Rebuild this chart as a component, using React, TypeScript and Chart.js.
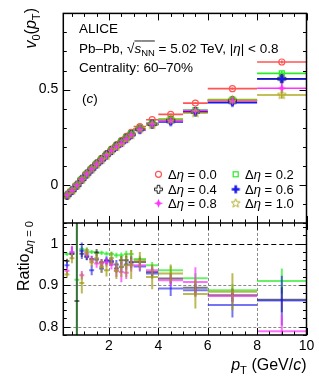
import React, { useEffect, useRef } from 'react';
import { Chart, registerables } from 'chart.js';

Chart.register(...registerables);

const FONT = '"Liberation Sans", Arial, Helvetica, sans-serif';

// ---- data ----
const binEdges = [0.2, 0.4, 0.6, 0.8, 1.0, 1.2, 1.4, 1.6, 1.8, 2.0, 2.2, 2.4, 2.6, 2.8, 3.0, 3.5, 4, 5, 6, 8, 10];
const ptCenters = [0.3, 0.5, 0.7, 0.9, 1.1, 1.3, 1.5, 1.7, 1.9, 2.1, 2.3, 2.5, 2.7, 2.9, 3.25, 3.75, 4.5, 5.5, 7, 9];
const etaGapLabels = ['0.0', '0.2', '0.4', '0.6', '0.8', '1.0'];
const xTickValues = [2, 4, 6, 8, 10];
const yTopTickValues = [0, 0.5];
const yBotTickValues = [0.8, 0.9, 1];

const v0Deta00 = [-0.057, -0.031, -0.002, 0.030, 0.059, 0.087, 0.113, 0.139, 0.163, 0.188, 0.210, 0.232, 0.254, 0.276, 0.306, 0.342, 0.370, 0.429, 0.505, 0.645];
const v0Deta02 = [-0.056, -0.030, -0.002, 0.030, 0.058, 0.085, 0.111, 0.136, 0.159, 0.184, 0.205, 0.228, 0.249, 0.270, 0.295, 0.324, 0.346, 0.393, 0.448, 0.585];
const v0Deta04 = [-0.055, -0.030, -0.002, 0.029, 0.057, 0.084, 0.110, 0.133, 0.157, 0.180, 0.203, 0.223, 0.244, 0.265, 0.293, 0.319, 0.339, 0.384, 0.442, 0.557];
const v0Deta06 = [-0.054, -0.030, -0.002, 0.029, 0.056, 0.081, 0.108, 0.131, 0.156, 0.180, 0.201, 0.221, 0.241, 0.262, 0.289, 0.317, 0.330, 0.381, 0.431, 0.556];
const v0Deta08 = [-0.053, -0.030, -0.002, 0.028, 0.057, 0.083, 0.108, 0.132, 0.156, 0.179, 0.199, 0.217, 0.240, 0.262, 0.290, 0.320, 0.337, 0.390, 0.441, 0.507];
const v0Deta10 = [-0.053, -0.030, -0.002, 0.028, 0.057, 0.083, 0.109, 0.132, 0.153, 0.180, 0.200, 0.221, 0.242, 0.262, 0.294, 0.315, 0.343, 0.377, 0.446, 0.472];

const v0ErrDeta00 = [0.002, 0.002, 0.002, 0.002, 0.002, 0.002, 0.002, 0.002, 0.002, 0.002, 0.002, 0.003, 0.003, 0.003, 0.003, 0.004, 0.004, 0.005, 0.006, 0.008];
const v0ErrDeta02 = [0.002, 0.002, 0.002, 0.002, 0.002, 0.002, 0.002, 0.002, 0.002, 0.002, 0.003, 0.003, 0.003, 0.003, 0.004, 0.004, 0.005, 0.006, 0.007, 0.012];
const v0ErrDeta04 = [0.002, 0.002, 0.002, 0.002, 0.002, 0.002, 0.002, 0.002, 0.002, 0.003, 0.003, 0.003, 0.003, 0.004, 0.004, 0.004, 0.005, 0.006, 0.008, 0.015];
const v0ErrDeta06 = [0.002, 0.002, 0.002, 0.002, 0.002, 0.002, 0.002, 0.002, 0.002, 0.003, 0.003, 0.003, 0.004, 0.004, 0.004, 0.005, 0.008, 0.007, 0.009, 0.015];
const v0ErrDeta08 = [0.002, 0.002, 0.002, 0.002, 0.002, 0.002, 0.002, 0.002, 0.003, 0.003, 0.003, 0.004, 0.004, 0.004, 0.004, 0.005, 0.006, 0.010, 0.009, 0.025];
const v0ErrDeta10 = [0.002, 0.002, 0.002, 0.002, 0.002, 0.002, 0.003, 0.003, 0.003, 0.003, 0.004, 0.004, 0.005, 0.005, 0.005, 0.007, 0.007, 0.010, 0.012, 0.020];

const ratioDeta02 = [0.975, 0.975, 0.913, 0.987, 0.985, 0.980, 0.978, 0.978, 0.976, 0.975, 0.972, 0.972, 0.975, 0.975, 0.963, 0.948, 0.936, 0.917, 0.888, 0.910];
const ratioDeta04 = [0.958, 0.975, 0.862, 0.976, 0.968, 0.963, 0.979, 0.955, 0.958, 0.955, 0.940, 0.960, 0.960, 0.955, 0.956, 0.932, 0.916, 0.894, 0.876, 0.865];
const ratioDeta06 = [0.948, 0.978, null, 0.983, 0.971, 0.936, 0.962, 0.940, 0.960, 0.958, 0.950, 0.944, 0.950, 0.955, 0.945, 0.928, 0.892, 0.888, 0.852, 0.863];
const ratioDeta08 = [0.935, 0.980, null, 0.924, 0.976, 0.960, 0.952, 0.952, 0.955, 0.950, 0.935, 0.932, 0.930, 0.948, 0.948, 0.936, 0.912, 0.908, 0.874, 0.789];
const ratioDeta10 = [0.926, 0.965, null, 0.905, 0.980, 0.955, 0.965, 0.945, 0.936, 0.965, 0.935, 0.945, 0.948, 0.950, 0.960, 0.920, 0.928, 0.879, 0.884, 0.730];

const ratioErrDeta02 = [0.004, 0.005, 0.35, 0.006, 0.006, 0.005, 0.005, 0.005, 0.005, 0.006, 0.006, 0.007, 0.008, 0.010, 0.008, 0.008, 0.010, 0.012, 0.014, 0.030];
const ratioErrDeta04 = [0.006, 0.006, 0.35, 0.008, 0.008, 0.008, 0.008, 0.008, 0.008, 0.009, 0.010, 0.010, 0.011, 0.012, 0.010, 0.010, 0.012, 0.014, 0.016, 0.030];
const ratioErrDeta06 = [0.008, 0.015, 0, 0.020, 0.010, 0.012, 0.010, 0.010, 0.010, 0.010, 0.011, 0.012, 0.012, 0.015, 0.012, 0.012, 0.018, 0.015, 0.030, 0.060];
const ratioErrDeta08 = [0.008, 0.015, 0, 0.010, 0.010, 0.010, 0.010, 0.010, 0.010, 0.012, 0.015, 0.025, 0.015, 0.015, 0.012, 0.012, 0.014, 0.035, 0.015, 0.040];
const ratioErrDeta10 = [0.008, 0.012, 0, 0.025, 0.010, 0.010, 0.012, 0.015, 0.015, 0.015, 0.020, 0.025, 0.028, 0.035, 0.020, 0.030, 0.022, 0.035, 0.045, 0.050];

const v0Series = [v0Deta00, v0Deta02, v0Deta04, v0Deta06, v0Deta08, v0Deta10];
const v0ErrSeries = [v0ErrDeta00, v0ErrDeta02, v0ErrDeta04, v0ErrDeta06, v0ErrDeta08, v0ErrDeta10];
const ratioSeries = [ratioDeta02, ratioDeta04, ratioDeta06, ratioDeta08, ratioDeta10];
const ratioErrSeries = [ratioErrDeta02, ratioErrDeta04, ratioErrDeta06, ratioErrDeta08, ratioErrDeta10];

const seriesColors = ['rgb(255,85,85)', 'rgb(40,235,40)', 'rgb(30,30,30)', 'rgb(25,25,235)', 'rgb(255,50,255)', 'rgb(175,170,35)'];
const ratioColors = ['', 'rgba(40,235,40,0.7)', 'rgba(30,30,30,0.6)', 'rgba(25,25,235,0.6)', 'rgba(255,50,255,0.7)', 'rgba(160,155,15,0.7)'];

// ---- helpers ----
type Seg = { t: string; it?: boolean; sub?: boolean; over?: boolean };

function segFont(size: number, it?: boolean) {
  return `${it ? 'italic ' : ''}${size}px ${FONT}`;
}
function measureRich(ctx: CanvasRenderingContext2D, segs: Seg[], size: number) {
  let w = 0;
  for (const s of segs) {
    ctx.font = segFont(s.sub ? size * 0.7 : size, s.it);
    w += ctx.measureText(s.t).width;
  }
  return w;
}
function drawRich(ctx: CanvasRenderingContext2D, x: number, y: number, segs: Seg[], size: number) {
  let cx = x;
  ctx.textBaseline = 'alphabetic';
  ctx.textAlign = 'left';
  for (const s of segs) {
    const fs = s.sub ? size * 0.7 : size;
    ctx.font = segFont(fs, s.it);
    const dy = s.sub ? size * 0.28 : 0;
    ctx.fillText(s.t, cx, y + dy);
    const w = ctx.measureText(s.t).width;
    if (s.over) {
      ctx.save();
      ctx.lineWidth = 0.9;
      ctx.strokeStyle = ctx.fillStyle as string;
      ctx.beginPath();
      ctx.moveTo(cx, y - size * 0.86);
      ctx.lineTo(cx + w, y - size * 0.86);
      ctx.stroke();
      ctx.restore();
    }
    cx += w;
  }
  return cx;
}

function makeMarker(kind: string, color: string) {
  const c = document.createElement('canvas');
  c.width = 11;
  c.height = 11;
  const g = c.getContext('2d')!;
  g.translate(5.5, 5.5);
  g.strokeStyle = color;
  g.fillStyle = color;
  g.lineWidth = 1;
  const path = (pts: number[][]) => {
    g.beginPath();
    pts.forEach(([x, y], k) => (k ? g.lineTo(x, y) : g.moveTo(x, y)));
    g.closePath();
  };
  if (kind === 'openCross' || kind === 'fullCross') {
    const s = 4, a = 1.3;
    path([[-a, -s], [a, -s], [a, -a], [s, -a], [s, a], [a, a], [a, s], [-a, s], [-a, a], [-s, a], [-s, -a], [-a, -a]]);
    if (kind === 'fullCross') g.fill(); else g.stroke();
  } else if (kind === 'star4') {
    const s = 4.5, i = 1.3;
    path([[0, -s], [i, -i], [s, 0], [i, i], [0, s], [-i, i], [-s, 0], [-i, -i]]);
    g.fill();
  } else if (kind === 'openStar') {
    const R = 4.6, r = 2.0;
    const pts: number[][] = [];
    for (let k = 0; k < 10; k++) {
      const ang = -Math.PI / 2 + (k * Math.PI) / 5;
      const rr = k % 2 === 0 ? R : r;
      pts.push([rr * Math.cos(ang), rr * Math.sin(ang)]);
    }
    path(pts);
    g.stroke();
  }
  return c;
}

function drawLegendMarker(ctx: CanvasRenderingContext2D, style: any, k: number, x: number, y: number) {
  ctx.save();
  ctx.strokeStyle = seriesColors[k];
  ctx.lineWidth = 1.2;
  if (style === 'circle') {
    ctx.beginPath();
    ctx.arc(x, y, 3, 0, Math.PI * 2);
    ctx.stroke();
  } else if (style === 'rect') {
    ctx.strokeRect(x - 2.5, y - 2.5, 5, 5);
  } else {
    ctx.drawImage(style, x - style.width / 2, y - style.height / 2);
  }
  ctx.restore();
}

export default function App() {
  const ref = useRef<HTMLCanvasElement>(null);

  useEffect(() => {
    const canvas = ref.current!;
    const markers: any[] = [
      'circle',
      'rect',
      makeMarker('openCross', seriesColors[2]),
      makeMarker('fullCross', seriesColors[3]),
      makeMarker('star4', seriesColors[4]),
      makeMarker('openStar', seriesColors[5]),
    ];

    const datasets: any[] = [];
    v0Series.forEach((vals, k) => {
      datasets.push({
        label: 'v0 deta ' + etaGapLabels[k],
        yAxisID: 'yTop',
        data: ptCenters.map((x, j) => ({ x, y: vals[j], err: v0ErrSeries[k][j], lo: binEdges[j], hi: binEdges[j + 1] })),
        pointStyle: markers[k],
        pointRadius: k === 1 ? 3.5 : 3,
        pointBorderWidth: 1.2,
        borderColor: seriesColors[k],
        backgroundColor: 'rgba(0,0,0,0)',
        barColor: seriesColors[k],
        barWidth: 1.6,
        order: 10 - k,
      });
    });
    ratioSeries.forEach((vals, idx) => {
      const k = idx + 1;
      const data: any[] = [];
      ptCenters.forEach((x, j) => {
        if (vals[j] !== null) data.push({ x, y: vals[j], err: ratioErrSeries[idx][j], lo: binEdges[j], hi: binEdges[j + 1] });
      });
      datasets.push({
        label: 'ratio deta ' + etaGapLabels[k],
        yAxisID: 'yBot',
        data,
        pointRadius: 0,
        borderColor: ratioColors[k],
        backgroundColor: ratioColors[k],
        barColor: ratioColors[k],
        barWidth: 2,
      });
    });

    const decor = {
      id: 'decor',
      beforeDatasetsDraw(chart: any) {
        const ctx: CanvasRenderingContext2D = chart.ctx;
        const xs = chart.scales.x, yb = chart.scales.yBot;
        const { left: L, right: R } = chart.chartArea;
        ctx.save();
        // grid in ratio panel
        ctx.lineWidth = 1;
        ctx.strokeStyle = '#8a8a8a';
        ctx.setLineDash([3, 2]);
        for (const v of [2, 4, 6, 8]) {
          const px = Math.round(xs.getPixelForValue(v)) + 0.5;
          ctx.beginPath(); ctx.moveTo(px, yb.top); ctx.lineTo(px, yb.bottom); ctx.stroke();
        }
        for (const v of [0.8, 0.9]) {
          const py = Math.round(yb.getPixelForValue(v)) + 0.5;
          ctx.beginPath(); ctx.moveTo(L, py); ctx.lineTo(R, py); ctx.stroke();
        }
        ctx.strokeStyle = '#000';
        ctx.lineWidth = 1.2;
        ctx.setLineDash([5, 3]);
        const p1 = Math.round(yb.getPixelForValue(1)) + 0.5;
        ctx.beginPath(); ctx.moveTo(L, p1); ctx.lineTo(R, p1); ctx.stroke();
        ctx.setLineDash([]);
        ctx.restore();

        // bin-width lines and error bars
        chart.data.datasets.forEach((ds: any) => {
          const ys = chart.scales[ds.yAxisID];
          ctx.save();
          ctx.beginPath();
          ctx.rect(L, ys.top, R - L, ys.bottom - ys.top);
          ctx.clip();
          ctx.strokeStyle = ds.barColor;
          ctx.lineWidth = ds.barWidth;
          for (const p of ds.data) {
            const py = ys.getPixelForValue(p.y);
            const px = xs.getPixelForValue(p.x);
            ctx.beginPath();
            ctx.moveTo(xs.getPixelForValue(p.lo), py);
            ctx.lineTo(xs.getPixelForValue(p.hi), py);
            ctx.stroke();
            if (p.err > 0) {
              ctx.beginPath();
              ctx.moveTo(px, ys.getPixelForValue(p.y - p.err));
              ctx.lineTo(px, ys.getPixelForValue(p.y + p.err));
              ctx.stroke();
            }
          }
          ctx.restore();
        });
      },
      afterDraw(chart: any) {
        const ctx: CanvasRenderingContext2D = chart.ctx;
        const xs = chart.scales.x, yt = chart.scales.yTop, yb = chart.scales.yBot;
        const { left: L, right: R } = chart.chartArea;
        ctx.save();
        ctx.strokeStyle = '#000';
        ctx.fillStyle = '#000';

        // ticks
        ctx.lineWidth = 1;
        const panels = [
          { ys: yt, min: -0.2, max: 0.9, step: 0.1, majors: [0, 0.5] },
          { ys: yb, min: 0.78, max: 1.05, step: 0.02, majors: [0.8, 0.9, 1.0] },
        ];
        for (const pn of panels) {
          const n0 = Math.ceil(pn.min / pn.step - 1e-6);
          const n1 = Math.floor(pn.max / pn.step + 1e-6);
          for (let n = n0; n <= n1; n++) {
            const v = n * pn.step;
            const major = pn.majors.some((m) => Math.abs(m - v) < 1e-6);
            const len = major ? 7 : 3.5;
            const py = Math.round(pn.ys.getPixelForValue(v)) + 0.5;
            ctx.beginPath();
            ctx.moveTo(L, py); ctx.lineTo(L + len, py);
            ctx.moveTo(R, py); ctx.lineTo(R - len, py);
            ctx.stroke();
          }
          for (let n = 1; n <= 20; n++) {
            const v = n * 0.5;
            const major = n % 4 === 0;
            const len = major ? 7 : 3.5;
            const px = Math.round(xs.getPixelForValue(v)) + 0.5;
            ctx.beginPath();
            ctx.moveTo(px, pn.ys.top); ctx.lineTo(px, pn.ys.top + len);
            ctx.moveTo(px, pn.ys.bottom); ctx.lineTo(px, pn.ys.bottom - len);
            ctx.stroke();
          }
        }

        // frame
        ctx.lineWidth = 1.5;
        ctx.strokeRect(L, yt.top, R - L, yb.bottom - yt.top);
        ctx.beginPath();
        ctx.moveTo(L, yb.top); ctx.lineTo(R, yb.top);
        ctx.stroke();

        // annotations
        const tx = 79;
        drawRich(ctx, tx, 32.8, [{ t: 'ALICE' }], 13.5);
        const afterSqrt = drawRich(ctx, tx, 52.6, [{ t: 'Pb–Pb, ' }, { t: '√' }], 13.5);
        drawRich(ctx, afterSqrt, 52.6, [{ t: 's', it: true, over: true }, { t: 'NN', sub: true, over: true }, { t: ' = 5.02 TeV, |' }, { t: 'η', it: true }, { t: '| < 0.8' }], 13.5);
        drawRich(ctx, tx, 71.8, [{ t: 'Centrality: 60–70%' }], 13.5);
        drawRich(ctx, 82, 102.6, [{ t: '(' }, { t: 'c', it: true }, { t: ')' }], 13.5);

        // legend
        const rowsY = [174.3, 189.3, 203.3];
        const markX = [158.5, 235.7];
        const textX = [168, 245];
        etaGapLabels.forEach((lab, k) => {
          const row = Math.floor(k / 2);
          const col = k % 2;
          drawLegendMarker(ctx, markers[k], k, markX[col], rowsY[row]);
          ctx.fillStyle = '#000';
          drawRich(ctx, textX[col], rowsY[row] + 4.7, [{ t: 'Δ' }, { t: 'η', it: true }, { t: ' = ' + lab }], 13);
        });

        // axis titles
        const v0Title: Seg[] = [{ t: 'v', it: true }, { t: '0', sub: true }, { t: '(' }, { t: 'p', it: true }, { t: 'T', sub: true }, { t: ')' }];
        const w1 = measureRich(ctx, v0Title, 16);
        ctx.save();
        ctx.translate(36, 8 + w1);
        ctx.rotate(-Math.PI / 2);
        drawRich(ctx, 0, 0, v0Title, 16);
        ctx.restore();

        const ratioTitle: Seg[] = [{ t: 'Ratio' }, { t: 'Δ', sub: true }, { t: 'η', sub: true, it: true }, { t: ' = 0', sub: true }];
        const w2 = measureRich(ctx, ratioTitle, 16);
        ctx.save();
        ctx.translate(28.5, 221 + w2);
        ctx.rotate(-Math.PI / 2);
        drawRich(ctx, 0, 0, ratioTitle, 16);
        ctx.restore();

        const xTitle: Seg[] = [{ t: 'p', it: true }, { t: 'T', sub: true }, { t: ' (GeV/' }, { t: 'c', it: true }, { t: ')' }];
        const w3 = measureRich(ctx, xTitle, 16);
        drawRich(ctx, R - w3, 369.5, xTitle, 16);

        ctx.restore();
      },
    };

    const tickFont = { family: FONT, size: 14 };
    const chart = new Chart(canvas, {
      type: 'scatter',
      data: { datasets },
      options: {
        animation: false,
        responsive: false,
        devicePixelRatio: 1,
        events: [],
        layout: { padding: { left: 0, right: 12.5, top: 10.7, bottom: 0 } },
        plugins: { legend: { display: false }, tooltip: { enabled: false } },
        scales: {
          x: {
            type: 'linear',
            min: 0.15,
            max: 10,
            afterBuildTicks: (s: any) => { s.ticks = xTickValues.map((v) => ({ value: v })); },
            afterFit: (s: any) => { s.height = 49; },
            grid: { display: false, drawTicks: false },
            border: { display: false },
            ticks: { color: '#000', font: tickFont, padding: 3, maxRotation: 0, autoSkip: false, callback: (v: any) => String(v) },
          },
          yBot: {
            type: 'linear',
            position: 'left',
            stack: 'panels',
            stackWeight: 113,
            min: 0.78,
            max: 1.05,
            afterBuildTicks: (s: any) => { s.ticks = yBotTickValues.map((v) => ({ value: v })); },
            afterFit: (s: any) => { s.width = 63.3; },
            grid: { display: false, drawTicks: false },
            border: { display: false },
            ticks: { color: '#000', font: tickFont, padding: 5, autoSkip: false, callback: (v: any) => String(v) },
          },
          yTop: {
            type: 'linear',
            position: 'left',
            stack: 'panels',
            stackWeight: 211.3,
            min: -0.2,
            max: 0.9,
            afterBuildTicks: (s: any) => { s.ticks = yTopTickValues.map((v) => ({ value: v })); },
            afterFit: (s: any) => { s.width = 63.3; },
            grid: { display: false, drawTicks: false },
            border: { display: false },
            ticks: { color: '#000', font: tickFont, padding: 5, autoSkip: false, callback: (v: any) => String(v) },
          },
        },
      } as any,
      plugins: [decor],
    });
    return () => chart.destroy();
  }, []);

  return (
    <div style={{ position: 'fixed', left: 0, top: 0, width: 319, height: 384, background: '#fff' }}>
      <canvas ref={ref} width={319} height={384} style={{ display: 'block', width: 319, height: 384 }} />
    </div>
  );
}
